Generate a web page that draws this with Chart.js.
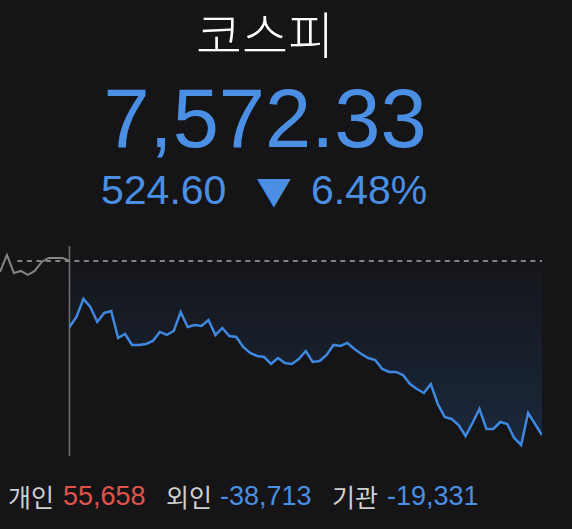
<!DOCTYPE html>
<html lang="ko">
<head>
<meta charset="utf-8">
<script src="https://cdn.jsdelivr.net/npm/chart.js@4.4.1/dist/chart.umd.min.js"></script>
<style>
	html, body { margin: 0; padding: 0; background: #151517; }
	body { width: 572px; height: 529px; position: relative; overflow: hidden; font-family: "Liberation Sans", "Noto Sans CJK KR", sans-serif; }
	.row { position: absolute; left: 0; width: 530px; text-align: center; white-space: nowrap; }
	.abs { position: absolute; white-space: nowrap; line-height: 1; }
	#title { top: 7px; font-family: "Noto Sans CJK KR", sans-serif; font-size: 50px; font-weight: 300; line-height: 1; color: #ffffff; }
	#price { top: 77px; font-size: 83px; line-height: 1; color: #4a8fe4; }
	.chg { top: 170px; font-size: 41px; color: #4a8fe4; }
	.tri { top: 168px; left: 257px; font-family: "DejaVu Sans", sans-serif; font-size: 44px; color: #4a8fe4; transform: scaleY(0.85); transform-origin: 50% 60%; }
	.flow { top: 483px; font-size: 27px; }
	.k { font-family: "Noto Sans CJK KR", sans-serif; font-size: 25px; color: #cfcfcf; top: 484px; }
	.up { color: #e0534a; }
	.down { color: #4a8fe4; }
	#chartBox { position: absolute; left: 0; top: 246px; width: 542px; height: 210px; }
</style>
</head>
<body>
<div class="row" id="title">코스피</div>
<div class="row" id="price">7,572.33</div>
<span class="abs chg" style="left:101px">524.60</span>
<span class="abs tri">▼</span>
<span class="abs chg" style="left:311px">6.48%</span>
<span class="abs k" style="left:8px">개인</span>
<span class="abs flow up" style="left:63px">55,658</span>
<span class="abs k" style="left:166px">외인</span>
<span class="abs flow down" style="left:220px">-38,713</span>
<span class="abs k" style="left:332px">기관</span>
<span class="abs flow down" style="left:387px">-19,331</span>
<div id="chartBox"><canvas id="chart"></canvas></div>
<script>
'use strict';

// 장 시작 전 (동시호가) 구간
var preMarket = [8063.8, 8115.0, 8060.7, 8066.8, 8054.7, 8066.8, 8093.9, 8106.0, 8106.0, 8106.0, 8096.9];

// 정규장 구간 (index 10 부터)
var session = [
	7897.9, 7928.1, 7982.4, 7958.2, 7913.0, 7940.2, 7946.2, 7864.8, 7876.8, 7843.7,
	7843.7, 7846.7, 7855.7, 7882.9, 7873.8, 7885.9, 7943.2, 7897.9, 7904.0, 7901.0,
	7919.0, 7873.8, 7894.9, 7870.8, 7867.8, 7837.6, 7819.6, 7810.5, 7807.5, 7786.4,
	7804.5, 7789.4, 7786.4, 7801.5, 7825.6, 7792.4, 7795.4, 7813.5, 7843.7, 7840.7,
	7849.7, 7831.6, 7816.5, 7804.5, 7798.4, 7771.3, 7762.3, 7762.3, 7753.2, 7726.1,
	7711.0, 7699.0, 7726.1, 7665.8, 7626.6, 7620.6, 7602.5, 7569.3, 7608.5, 7650.7,
	7590.4, 7590.4, 7611.5, 7605.5, 7563.3, 7542.2, 7638.7, 7605.5, 7572.3
];

var prevClose = 8096.93;
var openIndex = 10;
var lastIndex = 78;
var yMin = 7509;
var yMax = 8142;

(function () {
	var prePoints = [];
	for (var i = 0; i < preMarket.length; i++) {
		prePoints.push({x: i, y: preMarket[i]});
	}
	var sessionPoints = [];
	for (var j = 0; j < session.length; j++) {
		sessionPoints.push({x: openIndex + j, y: session[j]});
	}

	var fillGradient = function (context) {
		var chart = context.chart;
		var area = chart.chartArea;
		if (!area) {
			return 'rgba(45, 100, 180, 0.1)';
		}
		var top = chart.scales.y.getPixelForValue(prevClose);
		var g = chart.ctx.createLinearGradient(0, top, 0, area.bottom);
		g.addColorStop(0, 'rgba(45, 100, 180, 0.02)');
		g.addColorStop(1, 'rgba(45, 100, 180, 0.26)');
		return g;
	};

	var data = {
		datasets: [
			{
				label: '정규장',
				data: sessionPoints,
				borderColor: '#3f88e0',
				borderWidth: 2.5,
				backgroundColor: fillGradient,
				fill: {value: prevClose},
				pointRadius: 0,
				tension: 0
			},
			{
				label: '동시호가',
				data: prePoints,
				borderColor: '#858585',
				borderWidth: 2,
				pointRadius: 0,
				fill: false,
				tension: 0
			},
			{
				label: '전일종가',
				data: [{x: 2.5, y: prevClose}, {x: lastIndex, y: prevClose}],
				borderColor: '#a8a8a8',
				borderWidth: 1.5,
				borderDash: [5, 4.5],
				pointRadius: 0,
				fill: false
			},
			{
				label: '개장',
				data: [{x: openIndex, y: yMax}, {x: openIndex, y: yMin}],
				borderColor: '#707070',
				borderWidth: 1.5,
				pointRadius: 0,
				fill: false
			}
		]
	};

	var config = {
		type: 'line',
		data: data,
		options: {
			animation: false,
			responsive: true,
			maintainAspectRatio: false,
			devicePixelRatio: 1,
			layout: {padding: 0},
			scales: {
				x: {type: 'linear', min: 0, max: lastIndex, display: false},
				y: {min: yMin, max: yMax, display: false}
			},
			plugins: {
				legend: {display: false},
				tooltip: {enabled: false}
			}
		}
	};

	new Chart(document.getElementById('chart'), config);
})();
</script>
</body>
</html>
